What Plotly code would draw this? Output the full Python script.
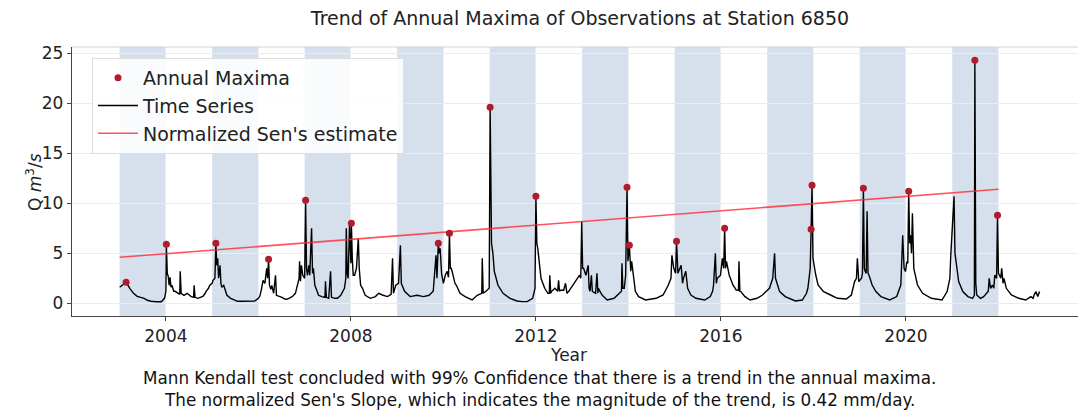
import plotly.graph_objects as go

# ---------------- data ----------------
ts_year = [
    2003.00, 2003.10, 2003.14, 2003.22, 2003.30, 2003.38, 2003.45, 2003.53, 2003.60, 2003.68,
    2003.80, 2003.90, 2003.97,
    2004.00, 2004.01, 2004.03, 2004.05, 2004.07, 2004.09, 2004.11, 2004.13, 2004.17, 2004.20,
    2004.27, 2004.30, 2004.31, 2004.33, 2004.39, 2004.46, 2004.54, 2004.60, 2004.61, 2004.63,
    2004.69, 2004.80, 2004.85, 2004.87, 2004.92, 2004.95, 2005.00, 2005.02, 2005.06,
    2005.08, 2005.10, 2005.12, 2005.14, 2005.17, 2005.19, 2005.21, 2005.25, 2005.32, 2005.40,
    2005.47, 2005.55, 2005.62, 2005.75, 2005.92, 2006.00, 2006.03, 2006.07, 2006.10, 2006.14,
    2006.18, 2006.20, 2006.22, 2006.24, 2006.27, 2006.29, 2006.33, 2006.37, 2006.39, 2006.45,
    2006.51, 2006.58, 2006.63, 2006.70, 2006.74, 2006.80, 2006.85, 2006.88, 2006.89, 2006.91,
    2006.93, 2006.96,
    2007.00, 2007.02, 2007.04, 2007.06, 2007.09, 2007.11, 2007.15, 2007.17, 2007.19, 2007.22,
    2007.27, 2007.30, 2007.37, 2007.44, 2007.45, 2007.47, 2007.52, 2007.56, 2007.58, 2007.65,
    2007.71, 2007.78, 2007.86, 2007.89, 2007.90, 2007.92, 2007.94, 2007.97, 2008.00, 2008.01,
    2008.03, 2008.05, 2008.08, 2008.12, 2008.16, 2008.18, 2008.21, 2008.25, 2008.31, 2008.42,
    2008.53, 2008.60, 2008.68, 2008.79, 2008.87, 2008.90, 2008.92, 2008.97, 2009.03, 2009.07,
    2009.09, 2009.13, 2009.16, 2009.28, 2009.43, 2009.57, 2009.69, 2009.78, 2009.84, 2009.86,
    2009.89, 2009.91, 2009.93, 2009.96, 2010.00, 2010.04, 2010.08, 2010.11, 2010.13, 2010.15,
    2010.17, 2010.21, 2010.25, 2010.28, 2010.36, 2010.47, 2010.62, 2010.73, 2010.81, 2010.83,
    2010.84, 2010.86, 2010.92, 2010.99, 2011.01, 2011.04, 2011.07, 2011.10, 2011.18, 2011.29,
    2011.44, 2011.59, 2011.70, 2011.81, 2011.93, 2011.98,
    2012.00, 2012.02, 2012.04, 2012.07, 2012.11, 2012.19, 2012.26, 2012.29, 2012.30, 2012.32,
    2012.34, 2012.41, 2012.47, 2012.49, 2012.51, 2012.53, 2012.60, 2012.64, 2012.67, 2012.71,
    2012.79, 2012.87, 2012.94, 2012.97, 2012.99, 2013.01, 2013.03, 2013.08, 2013.13, 2013.15,
    2013.17, 2013.20, 2013.22, 2013.29, 2013.32, 2013.34, 2013.35, 2013.43, 2013.54, 2013.69,
    2013.81, 2013.85, 2013.86, 2013.88, 2013.91, 2013.94, 2013.97, 2013.99, 2014.02, 2014.05,
    2014.07, 2014.11, 2014.15, 2014.22, 2014.37, 2014.60, 2014.75, 2014.86, 2014.92, 2014.94,
    2014.98, 2015.02, 2015.04, 2015.07, 2015.09, 2015.14, 2015.17, 2015.19, 2015.24, 2015.27,
    2015.28, 2015.35, 2015.46, 2015.65, 2015.77, 2015.82, 2015.84, 2015.88, 2015.90, 2015.92,
    2015.99, 2016.03, 2016.06, 2016.08, 2016.10, 2016.12, 2016.18, 2016.26, 2016.33, 2016.38,
    2016.39, 2016.41, 2016.43, 2016.52, 2016.63, 2016.78, 2016.90, 2016.98, 2017.05, 2017.12,
    2017.16, 2017.18, 2017.20, 2017.27, 2017.39, 2017.61, 2017.76, 2017.85, 2017.88, 2017.91,
    2017.93, 2017.95, 2017.97, 2017.99, 2018.00, 2018.05, 2018.10, 2018.22, 2018.37, 2018.52,
    2018.71, 2018.82, 2018.89, 2018.93, 2018.95, 2018.97, 2018.98, 2019.04, 2019.06, 2019.08,
    2019.10, 2019.12, 2019.14, 2019.16, 2019.18, 2019.20, 2019.27, 2019.35, 2019.46, 2019.65,
    2019.80, 2019.89, 2019.93, 2019.96, 2019.99, 2020.02, 2020.04, 2020.06, 2020.08, 2020.10,
    2020.12, 2020.14, 2020.16, 2020.17, 2020.25, 2020.36, 2020.55, 2020.78, 2020.89, 2020.95,
    2020.97, 2021.00, 2021.04, 2021.06, 2021.08, 2021.14, 2021.23, 2021.34, 2021.44, 2021.48,
    2021.49, 2021.51, 2021.53, 2021.61, 2021.68, 2021.78, 2021.80, 2021.83, 2021.87, 2021.90,
    2021.92, 2021.96, 2021.98, 2022.00, 2022.02, 2022.05, 2022.07, 2022.10, 2022.12, 2022.17,
    2022.28, 2022.44, 2022.59, 2022.70, 2022.75, 2022.77, 2022.81, 2022.85, 2022.89,
]
ts_q = [
    1.6, 1.9, 2.1, 1.5, 1.0, 0.7, 0.6, 0.5, 0.3, 0.2,
    0.15, 0.15, 0.5,
    1.2, 5.9, 3.0, 2.7, 1.8, 2.6, 1.6, 1.8, 1.2, 1.2,
    1.0, 0.9, 3.2, 1.0, 0.8, 1.0, 0.7, 0.6, 1.8, 0.6,
    0.5, 0.7, 1.0, 1.2, 1.5, 1.8, 2.0, 2.3, 2.5,
    6.0, 3.8, 4.5, 2.5, 3.8, 2.0, 1.6, 1.8, 0.8, 0.5,
    0.33, 0.2, 0.2, 0.2, 0.23, 0.5, 0.7, 1.5, 2.3, 2.0,
    3.5, 2.5, 4.4, 1.8, 1.4, 1.8, 1.0, 2.8, 0.8, 0.7,
    0.6, 0.4, 0.43, 0.6, 0.7, 1.0, 1.8, 2.5, 4.2, 2.2,
    3.8, 2.8,
    2.5, 10.3, 3.5, 2.8, 3.8, 2.8, 7.5, 3.0, 3.5, 1.8,
    1.2, 0.8, 0.67, 0.6, 2.2, 0.6, 0.5, 3.2, 0.6, 0.5,
    0.5, 0.8, 1.5, 2.5, 7.5, 3.0, 2.5, 7.8, 4.0, 8.0,
    4.5, 2.8, 2.8, 3.5, 6.5, 3.5, 1.8, 1.5, 0.8, 0.5,
    0.67, 1.0, 0.83, 0.67, 0.9, 4.5, 1.0, 1.8, 2.0, 5.8,
    2.0, 1.5, 1.2, 0.67, 0.8, 0.67, 0.8, 1.2, 4.8, 2.5,
    6.0, 5.0, 5.5, 3.0, 2.0, 2.8, 3.2, 2.6, 7.0, 3.5,
    3.5, 2.8, 2.0, 1.8, 1.0, 0.67, 0.33, 0.8, 1.0, 1.0,
    4.5, 1.0, 1.2, 1.5, 19.6, 6.0, 5.0, 3.2, 1.8, 1.0,
    0.5, 0.23, 0.17, 0.17, 0.5, 1.5,
    10.7, 6.0, 5.5, 4.2, 2.5, 1.5, 1.0, 1.0, 2.8, 1.0,
    1.2, 1.5, 1.2, 2.3, 1.2, 1.3, 1.3, 2.0, 1.0, 1.2,
    1.8, 2.3, 2.8, 2.5, 8.2, 3.5, 3.5, 2.8, 3.8, 1.5,
    1.2, 2.8, 1.2, 1.0, 3.0, 1.0, 1.5, 0.83, 0.33, 0.5,
    1.0, 1.2, 4.0, 1.5, 1.5, 2.8, 11.6, 4.2, 5.8, 3.2,
    4.2, 2.5, 1.2, 0.67, 0.33, 0.5, 0.83, 1.8, 2.5, 4.8,
    3.5, 3.0, 6.2, 3.0, 3.2, 3.8, 2.0, 2.5, 3.2, 1.5,
    1.5, 0.83, 0.5, 0.33, 0.67, 1.2, 1.8, 5.0, 2.0, 2.5,
    2.8, 4.5, 3.5, 7.5, 3.5, 4.2, 2.8, 1.83, 1.33, 1.3,
    4.2, 1.2, 1.17, 0.67, 0.33, 0.5, 0.83, 1.2, 1.5, 2.5,
    5.0, 2.5, 2.17, 1.17, 0.67, 0.23, 0.33, 1.0, 1.5, 2.8,
    3.5, 7.4, 11.8, 4.5, 4.17, 2.83, 1.83, 1.17, 0.83, 0.5,
    0.43, 0.83, 2.17, 2.5, 4.5, 2.2, 2.17, 2.5, 3.0, 11.5,
    3.5, 3.17, 3.0, 9.2, 3.0, 2.83, 1.83, 1.17, 0.67, 0.33,
    0.67, 1.83, 6.8, 3.5, 3.17, 4.17, 4.0, 11.3, 6.0, 6.8,
    5.0, 9.0, 4.0, 3.5, 1.83, 1.0, 0.5, 0.33, 1.17, 2.5,
    4.8, 7.5, 10.7, 5.0, 4.17, 2.17, 1.17, 0.67, 0.5, 0.8,
    24.3, 2.0, 0.83, 0.5, 0.67, 1.2, 2.5, 1.5, 1.83, 1.5,
    2.83, 2.5, 8.8, 3.0, 2.83, 2.5, 3.5, 2.0, 2.5, 1.5,
    0.83, 0.5, 0.33, 0.67, 0.5, 0.83, 1.17, 0.67, 1.17,
]

max_year = [2003.14, 2004.01, 2005.08, 2006.22, 2007.02, 2008.01, 2009.89, 2010.13, 2011.01, 2012.00,
            2013.97, 2014.02, 2015.04, 2016.08, 2017.95, 2017.97, 2019.08, 2020.06, 2021.49, 2021.98]
max_q = [2.1, 5.9, 6.0, 4.4, 10.3, 8.0, 6.0, 7.0, 19.6, 10.7,
         11.6, 5.8, 6.2, 7.5, 7.4, 11.8, 11.5, 11.2, 24.3, 8.8]

sen_year = [2003.0, 2022.0]
sen_q = [4.6, 11.4]

band_start = [2003, 2005, 2007, 2009, 2011, 2013, 2015, 2017, 2019, 2021]
x_ticks = [2004, 2008, 2012, 2016, 2020]
y_ticks = [0, 5, 10, 15, 20, 25]

title_text = "Trend of Annual Maxima of Observations at Station 6850"
footer_lines = [
    "Mann Kendall test concluded with 99% Confidence that there is a trend in the annual maxima.",
    "The normalized Sen's Slope, which indicates the magnitude of the trend, is 0.42 mm/day.",
]

# ---------------- figure ----------------
FONT = "DejaVu Sans"
W, H = 1078, 417
L, R, T, B = 72, 0, 47, 101
pw, ph = W - L - R, H - T - B


def px_to_paper_x(px):
    return (px - L) / pw


def px_to_paper_y(py):
    return (H - B - py) / ph


fig = go.Figure()

fig.add_trace(go.Scatter(
    x=ts_year, y=ts_q, mode="lines", name="Time Series",
    line=dict(color="black", width=1.4), legendrank=2,
))
fig.add_trace(go.Scatter(
    x=sen_year, y=sen_q, mode="lines", name="Normalized Sen's estimate",
    line=dict(color="rgba(255,40,50,0.8)", width=1.6), legendrank=3,
))
fig.add_trace(go.Scatter(
    x=max_year, y=max_q, mode="markers", name="Annual Maxima",
    marker=dict(color="#b01c2c", size=7), legendrank=1,
))

shapes = []
for s in band_start:
    shapes.append(dict(type="rect", xref="x", yref="paper", x0=s, x1=s + 1, y0=0, y1=1,
                       fillcolor="rgb(214,224,237)", line=dict(width=0), layer="below"))
# light top frame line
shapes.append(dict(type="line", xref="paper", yref="paper", x0=0, x1=1, y0=1, y1=1,
                   line=dict(color="#d4d4d4", width=1.2), layer="above"))
fig.update_layout(shapes=shapes)

annotations = [
    dict(text="Year", xref="paper", yref="paper", x=px_to_paper_x(568), y=px_to_paper_y(355),
         showarrow=False, font=dict(family=FONT, size=17, color="#222"),
         xanchor="center", yanchor="middle"),
    dict(text="Q <i>m</i><sup>3</sup>/<i>s</i>", xref="paper", yref="paper",
         x=px_to_paper_x(34), y=px_to_paper_y(182), textangle=-90,
         showarrow=False, font=dict(family=FONT, size=17, color="#222"),
         xanchor="center", yanchor="middle"),
]
for i, line in enumerate(footer_lines):
    annotations.append(dict(text=line, xref="paper", yref="paper",
                            x=px_to_paper_x(539), y=px_to_paper_y(378 + 22 * i),
                            showarrow=False, font=dict(family=FONT, size=16.8, color="#111"),
                            xanchor="center", yanchor="middle"))
fig.update_layout(annotations=annotations)

fig.update_layout(
    width=W, height=H,
    margin=dict(l=L, r=R, t=T, b=B, pad=0),
    paper_bgcolor="white", plot_bgcolor="white",
    font=dict(family=FONT, size=17, color="#222"),
    title=dict(text=title_text, x=580 / W, xanchor="center", y=1 - 18 / H, yanchor="middle",
               font=dict(family=FONT, size=19, color="#222")),
    showlegend=True,
    legend=dict(x=px_to_paper_x(92), y=px_to_paper_y(58), xanchor="left", yanchor="top",
                bgcolor="rgba(255,255,255,0.85)", bordercolor="#dddddd", borderwidth=1,
                font=dict(family=FONT, size=19, color="#222"), itemwidth=40,
                tracegroupgap=0),
    xaxis=dict(range=[2001.97, 2023.72], tickvals=x_ticks, ticktext=[str(t) for t in x_ticks],
               showgrid=True, gridcolor="rgb(236,236,236)", gridwidth=1,
               showline=True, linecolor="#444", linewidth=1.3, mirror=False,
               ticks="outside", ticklen=4, tickcolor="#444", zeroline=False,
               tickfont=dict(family=FONT, size=17, color="#222")),
    yaxis=dict(range=[-1.27, 25.63], tickvals=y_ticks, ticktext=[str(t) for t in y_ticks],
               showgrid=True, gridcolor="rgb(236,236,236)", gridwidth=1,
               showline=True, linecolor="#444", linewidth=1.3, mirror=False,
               ticks="outside", ticklen=4, tickcolor="#444", zeroline=False,
               tickfont=dict(family=FONT, size=17, color="#222")),
)

fig.write_html("out.html")
